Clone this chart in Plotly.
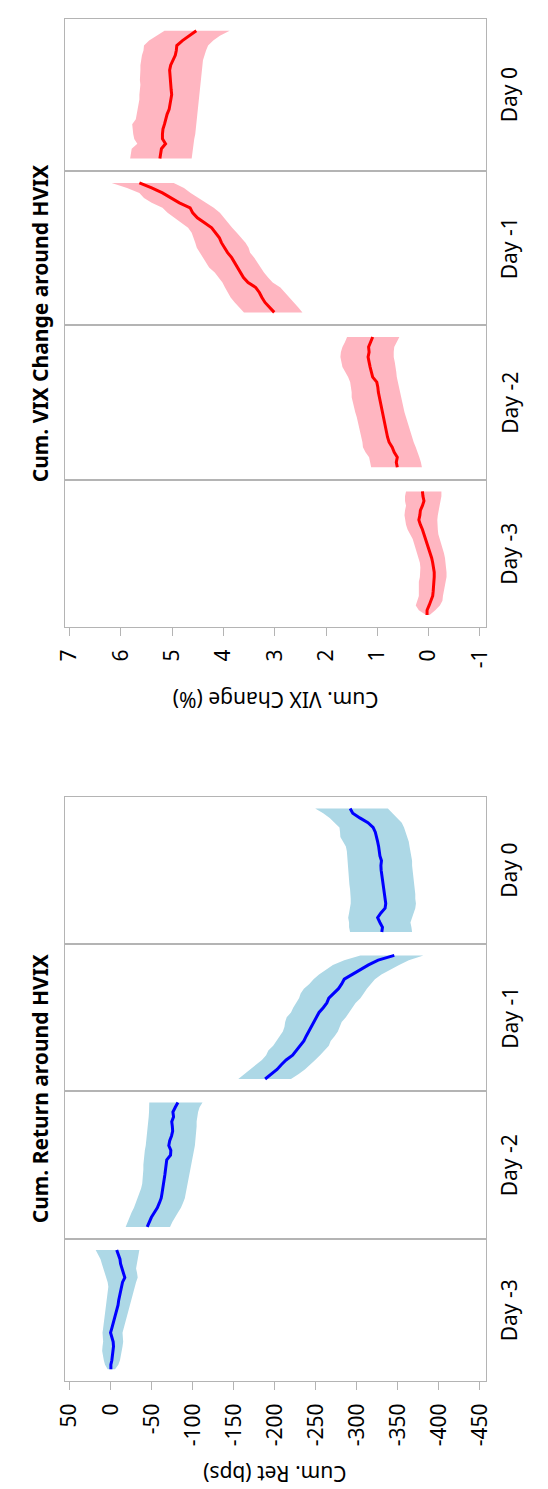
import plotly.graph_objects as go

W, H = 548, 1489

# ---------------- data ----------------
minutes = [0, 15, 30, 45, 60, 75, 90, 105, 120, 135, 150, 165, 180, 195,
           210, 225, 240, 255, 270, 285, 300, 315, 330, 345, 360, 375, 390]
day_labels = ["Day -3", "Day -2", "Day -1", "Day 0"]
vix_ticks = [7, 6, 5, 4, 3, 2, 1, 0, -1]
ret_ticks = [50, 0, -50, -100, -150, -200, -250, -300, -350, -400, -450]

# Cum. VIX change (%)
vix_d3_mean = [0.03, 0.03, -0.01, -0.04, -0.08, -0.09, -0.10, -0.10, -0.11, -0.11, -0.10, -0.08, -0.06, -0.03,
               0.00, 0.03, 0.05, 0.08, 0.12, 0.16, 0.19, 0.17, 0.16, 0.12, 0.09, 0.11, 0.12]
vix_d3_hi = [0.05, 0.19, 0.25, 0.22, 0.19, 0.19, 0.19, 0.19, 0.17, 0.16, 0.16, 0.17, 0.20, 0.22,
             0.25, 0.28, 0.31, 0.36, 0.41, 0.44, 0.46, 0.47, 0.46, 0.44, 0.46, 0.46, 0.44]
vix_d3_lo = [-0.02, -0.13, -0.22, -0.27, -0.28, -0.30, -0.32, -0.33, -0.35, -0.35, -0.35, -0.33, -0.32, -0.30,
             -0.28, -0.25, -0.22, -0.19, -0.18, -0.17, -0.17, -0.18, -0.19, -0.21, -0.23, -0.25, -0.25]

vix_d2_mean = [0.61, 0.63, 0.61, 0.67, 0.71, 0.77, 0.80, 0.82, 0.84, 0.87, 0.88, 0.90, 0.93, 0.95,
               0.97, 0.98, 0.99, 1.01, 1.09, 1.12, 1.14, 1.16, 1.18, 1.16, 1.17, 1.13, 1.09]
vix_d2_hi = [1.12, 1.14, 1.16, 1.23, 1.28, 1.29, 1.31, 1.33, 1.36, 1.38, 1.40, 1.43, 1.45, 1.48,
             1.50, 1.50, 1.51, 1.53, 1.57, 1.63, 1.68, 1.70, 1.72, 1.71, 1.68, 1.63, 1.59]
vix_d2_lo = [0.13, 0.15, 0.18, 0.21, 0.25, 0.29, 0.33, 0.36, 0.38, 0.41, 0.44, 0.47, 0.50, 0.52,
             0.54, 0.56, 0.57, 0.60, 0.62, 0.63, 0.64, 0.66, 0.68, 0.68, 0.67, 0.62, 0.57]

vix_d1_mean = [3.01, 3.10, 3.19, 3.25, 3.30, 3.37, 3.52, 3.61, 3.67, 3.72, 3.78, 3.84, 3.92, 3.98,
               4.04, 4.08, 4.15, 4.23, 4.37, 4.51, 4.60, 4.65, 4.86, 5.03, 5.19, 5.40, 5.64]
vix_d1_hi = [3.60, 3.70, 3.78, 3.86, 3.92, 3.97, 4.02, 4.10, 4.17, 4.28, 4.34, 4.40, 4.46, 4.52,
             4.55, 4.58, 4.62, 4.69, 4.82, 4.95, 5.09, 5.19, 5.40, 5.55, 5.64, 5.88, 6.18]
vix_d1_lo = [2.46, 2.54, 2.63, 2.72, 2.80, 2.89, 3.04, 3.13, 3.21, 3.28, 3.34, 3.40, 3.48, 3.51,
             3.57, 3.66, 3.74, 3.83, 3.92, 3.99, 4.07, 4.19, 4.34, 4.49, 4.64, 4.77, 4.97]

vix_d0_mean = [5.24, 5.23, 5.21, 5.13, 5.19, 5.19, 5.18, 5.15, 5.13, 5.10, 5.06, 5.04, 5.02, 5.01,
               5.02, 5.03, 5.04, 5.05, 5.05, 5.03, 4.99, 4.94, 4.92, 4.91, 4.80, 4.67, 4.53]
vix_d0_hi = [5.82, 5.81, 5.79, 5.68, 5.74, 5.76, 5.77, 5.78, 5.71, 5.69, 5.67, 5.66, 5.64, 5.64,
             5.63, 5.62, 5.63, 5.62, 5.62, 5.62, 5.61, 5.59, 5.56, 5.55, 5.45, 5.30, 5.15]
vix_d0_lo = [4.62, 4.61, 4.60, 4.58, 4.57, 4.55, 4.54, 4.52, 4.51, 4.50, 4.49, 4.48, 4.47, 4.46,
             4.45, 4.45, 4.44, 4.43, 4.42, 4.41, 4.40, 4.37, 4.34, 4.30, 4.20, 4.07, 3.88]

# Cum. return (bps)
ret_d3_mean = [-0.2, -0.2, -1.4, -2.2, -2.6, -3.4, -3.0, -1.8, 0.2, -1.4, -3.0, -4.6, -6.1, -7.3,
               -8.9, -9.7, -10.9, -11.6, -12.8, -14.4, -17.2, -15.2, -13.2, -12.0, -11.3, -9.3, -7.3]
ret_d3_hi = [3.7, 6.9, 8.4, 9.6, 10.4, 10.0, 9.2, 9.6, 10.0, 9.2, 8.4, 7.6, 6.9, 6.5,
             5.7, 5.3, 4.5, 3.7, 2.9, 3.7, 5.7, 6.9, 8.8, 10.8, 12.4, 15.1, 18.3]
ret_d3_lo = [-5.3, -9.3, -11.3, -12.4, -13.6, -14.4, -15.2, -14.8, -14.4, -16.0, -17.6, -19.1, -20.7, -22.3,
             -23.8, -25.4, -27.0, -28.2, -29.4, -30.9, -32.9, -32.1, -30.9, -31.7, -32.9, -33.7, -34.9]

ret_d2_mean = [-44.5, -47.0, -49.6, -53.2, -56.8, -59.3, -61.5, -62.5, -63.6, -64.7, -65.4, -66.1, -66.8, -67.5,
               -68.3, -72.9, -73.3, -70.8, -71.9, -74.1, -75.5, -75.1, -74.4, -76.6, -75.8, -78.7, -81.9]
ret_d2_hi = [-18.2, -20.4, -22.9, -25.4, -28.3, -30.5, -33.3, -35.2, -37.0, -38.4, -39.1, -39.8, -39.8, -39.8,
             -40.2, -40.9, -41.6, -42.7, -43.4, -43.8, -44.5, -45.2, -45.6, -46.3, -46.7, -47.0, -47.0]
ret_d2_lo = [-72.3, -75.1, -78.4, -82.0, -85.6, -88.1, -90.3, -91.7, -93.1, -94.2, -94.9, -95.6, -96.7, -97.8,
             -98.9, -100.4, -101.5, -102.6, -103.3, -104.0, -104.3, -104.7, -104.7, -105.4, -106.5, -108.3, -111.9]

ret_d1_mean = [-188.2, -196.1, -202.7, -207.9, -213.8, -221.7, -226.4, -230.3, -235.4, -238.2, -241.3, -244.5,
               -246.8, -250.0, -253.9, -259.0, -263.4, -265.8, -272.0, -277.6, -281.5, -284.6, -294.5, -304.3,
               -314.2, -326.0, -345.6]
ret_d1_hi = [-155.5, -162.6, -169.7, -177.6, -184.3, -189.4, -192.1, -198.0, -202.0, -205.1, -209.8, -211.8,
             -212.6, -214.5, -219.7, -222.4, -226.4, -229.5, -231.5, -235.4, -242.1, -247.2, -253.9, -263.0,
             -270.8, -284.6, -304.3]
ret_d1_lo = [-219.7, -228.7, -236.6, -243.3, -249.2, -255.1, -261.0, -265.8, -268.1, -272.8, -276.8, -278.8,
             -281.5, -286.6, -290.5, -294.5, -298.4, -304.3, -308.3, -312.2, -316.9, -322.0, -329.9, -339.7,
             -351.5, -363.3, -381.1]

ret_d0_mean = [-330.4, -331.2, -328.1, -325.3, -329.3, -334.4, -335.2, -334.4, -332.8, -332.0, -331.6, -331.2,
               -330.4, -329.6, -329.3, -330.0, -328.1, -327.7, -326.5, -325.3, -324.1, -322.5, -319.8, -313.5,
               -303.6, -295.0, -291.8]
ret_d0_hi = [-291.7, -290.5, -290.5, -289.4, -290.5, -291.7, -292.5, -292.5, -292.5, -291.7, -290.9, -290.5,
             -289.8, -289.4, -288.6, -288.6, -287.8, -287.8, -286.6, -282.7, -279.9, -279.5, -278.8, -272.8,
             -266.9, -259.0, -249.2]
ret_d0_lo = [-367.3, -366.5, -365.3, -366.5, -369.3, -371.2, -372.0, -371.2, -371.2, -370.4, -369.7, -369.3,
             -368.9, -368.1, -367.3, -367.3, -366.5, -365.3, -364.2, -363.3, -361.4, -359.4, -357.5, -354.7,
             -348.4, -343.7, -337.8]

# ---------------- layout / style ----------------
FONT = "Noto Sans"
BORDER = "#B4B4B4"
FS = 21

panels = [
    dict(means=[vix_d3_mean, vix_d2_mean, vix_d1_mean, vix_d0_mean],
         his=[vix_d3_hi, vix_d2_hi, vix_d1_hi, vix_d0_hi],
         los=[vix_d3_lo, vix_d2_lo, vix_d1_lo, vix_d0_lo],
         line="#FF0000", fill="#FFB6C1", xrange=[7.10, -1.12], ticks=vix_ticks,
         bounds=[619, 472, 317, 163, 11],
         title="Cum. VIX Change around HVIX", axis_title="Cum. VIX Change (%)", axis_title_y=692),
    dict(means=[ret_d3_mean, ret_d2_mean, ret_d1_mean, ret_d0_mean],
         his=[ret_d3_hi, ret_d2_hi, ret_d1_hi, ret_d0_hi],
         los=[ret_d3_lo, ret_d2_lo, ret_d1_lo, ret_d0_lo],
         line="#0000FF", fill="#ADD8E6", xrange=[56.3, -457.4], ticks=ret_ticks,
         bounds=[1373, 1231, 1083, 936, 789],
         title="Cum. Return around HVIX", axis_title="Cum. Ret (bps)", axis_title_y=1466),
]

X0, X1 = 48, 483
fig = go.Figure()
layout = dict(width=W, height=H, margin=dict(l=0, r=0, t=0, b=0),
              paper_bgcolor="white", plot_bgcolor="white", showlegend=False,
              font=dict(family=FONT, color="black"))
annotations = []

n = 0
for p in panels:
    for i in range(4):
        n += 1
        xa = "x" if n == 1 else f"x{n}"
        ya = "y" if n == 1 else f"y{n}"
        hi, lo, mean = p["his"][i], p["los"][i], p["means"][i]
        fig.add_trace(go.Scatter(
            x=hi + lo[::-1], y=minutes + minutes[::-1], xaxis=xa, yaxis=ya,
            mode="lines", fill="toself", fillcolor=p["fill"],
            line=dict(width=0, color=p["fill"]), hoverinfo="skip"))
        fig.add_trace(go.Scatter(
            x=mean, y=minutes, xaxis=xa, yaxis=ya, mode="lines",
            line=dict(color=p["line"], width=3)))
        top_px, bot_px = p["bounds"][i + 1], p["bounds"][i]
        ydom = [1 - bot_px / H, 1 - top_px / H]
        bottom = (i == 0)
        xkey = "xaxis" if n == 1 else f"xaxis{n}"
        ykey = "yaxis" if n == 1 else f"yaxis{n}"
        layout[xkey] = dict(domain=[X0 / W, X1 / W], anchor=ya, range=p["xrange"],
                            showline=True, mirror=True, linecolor=BORDER, linewidth=1,
                            showgrid=False, zeroline=False,
                            ticks="outside" if bottom else "", ticklen=8, tickcolor=BORDER,
                            tickvals=p["ticks"] if bottom else [],
                            ticktext=[str(t) for t in p["ticks"]] if bottom else [],
                            showticklabels=bottom, tickangle=-90,
                            ticklabelstandoff=5,
                            tickfont=dict(size=FS, family=FONT, color="black"))
        layout[ykey] = dict(domain=ydom, anchor=xa, range=[-38, 426],
                            showline=True, mirror=True, linecolor=BORDER, linewidth=1,
                            showgrid=False, zeroline=False, showticklabels=False, ticks="")
        annotations.append(dict(text=day_labels[i], xref="paper", yref="paper",
                                x=507 / W, y=1 - (top_px + bot_px) / 2 / H,
                                xanchor="center", yanchor="middle", textangle=-90,
                                showarrow=False, font=dict(size=FS, family=FONT, color="black")))
    mid = (p["bounds"][0] + p["bounds"][4]) / 2
    annotations.append(dict(text="<b>" + p["title"] + "</b>", xref="paper", yref="paper",
                            x=23 / W, y=1 - mid / H, xanchor="center", yanchor="middle",
                            textangle=-90, showarrow=False,
                            font=dict(size=FS, family=FONT, color="black")))
    annotations.append(dict(text=p["axis_title"], xref="paper", yref="paper",
                            x=(X0 + X1) / 2 / W, y=1 - p["axis_title_y"] / H,
                            xanchor="center", yanchor="middle", textangle=180,
                            showarrow=False, font=dict(size=FS, family=FONT, color="black")))

layout["annotations"] = annotations
fig.update_layout(**layout)
fig.write_html("out.html")
